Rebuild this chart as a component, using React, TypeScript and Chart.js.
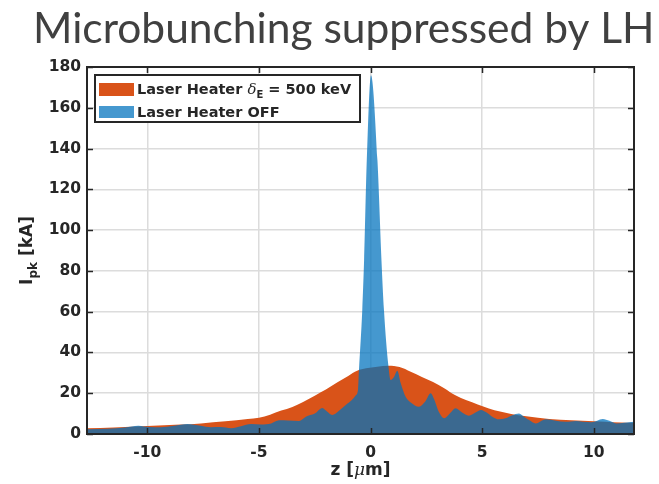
import React, { useEffect, useRef } from 'react';
import { Chart, registerables } from 'chart.js';
Chart.register(...registerables);

// ---- data (z in µm, I_pk in kA) ----
const zHeater = [-12.7, -11.5, -10, -8.5, -7.6, -6.5, -5.5, -5.0, -4.5, -4.0, -3.5, -3.0, -2.5, -2.0, -1.5, -1.0, -0.6, -0.2, 0.3, 0.8, 1.3, 1.8, 2.3, 2.8, 3.3, 3.8, 4.3, 4.8, 5.3, 5.8, 6.3, 6.8, 7.5, 8.5, 9.5, 10.5, 11.2, 11.8];
const iHeater = [2.8, 3.2, 3.9, 4.6, 5.2, 6.2, 7.3, 8.0, 9.5, 11.5, 13.3, 15.8, 18.8, 21.8, 25.2, 28.5, 31, 32.2, 33, 33.5, 32.8, 30.5, 28, 25.5, 22.5, 19, 16.5, 14.5, 12.5, 11, 9.8, 9, 8, 7, 6.5, 6, 5.6, 5.5];

const zOff = [-12.7, -11.8, -11.0, -10.4, -9.9, -9.4, -8.8, -8.2, -7.6, -7.15, -6.7, -6.25, -5.8, -5.35, -4.9, -4.45, -4.1, -3.7, -3.2, -2.9, -2.5, -2.16, -1.95, -1.72, -1.4, -1.11, -0.85, -0.66, -0.56, -0.52, -0.37, -0.29, -0.17, 0.02, 0.31, 0.49, 0.6, 0.8, 0.9, 1.05, 1.2, 1.35, 1.57, 1.8, 2.17, 2.45, 2.69, 2.85, 3.05, 3.3, 3.55, 3.81, 4.1, 4.4, 4.7, 4.95, 5.2, 5.45, 5.75, 6.05, 6.35, 6.65, 6.9, 7.1, 7.4, 7.85, 8.3, 8.75, 9.2, 9.5, 9.9, 10.4, 10.7, 11.0, 11.35, 11.8];
const iOff = [2.3, 2.6, 3.2, 4.1, 3.4, 3.3, 4.0, 4.9, 4.0, 3.3, 3.4, 2.8, 3.8, 4.9, 4.7, 5.2, 6.7, 6.6, 6.4, 8.5, 10, 12.8, 11, 9.3, 11.5, 14.2, 16.5, 19, 22, 31, 61, 85, 134, 176, 134, 85, 61, 33.5, 26.5, 28, 31, 25, 18.3, 15.5, 13.4, 16, 20, 17, 11, 7.7, 10, 12.6, 10.5, 9, 10.5, 11.8, 10.5, 8.5, 7.2, 7.7, 9.2, 10.1, 8.2, 6.9, 5.2, 7.2, 6.5, 6.0, 6.4, 6.0, 5.8, 7.4, 6.5, 5.2, 5.5, 6.0];

const xTicks = [-10, -5, 0, 5, 10];
const yTicks = [0, 20, 40, 60, 80, 100, 120, 140, 160, 180];
const xRange = [-12.7, 11.8];
const yRange = [0, 180];

const titleText = 'Microbunching suppressed by LH';
const legendHeaterParts = ['Laser Heater ', 'δ', 'E', ' = 500 keV'];
const legendOffText = 'Laser Heater OFF';
const xLabelParts = ['z [', 'μ', 'm]'];
const yLabelParts = ['I', 'pk', ' [kA]'];

const ORANGE = '#D95319';
const BLUE = 'rgba(0,114,189,0.73)';
const INK = '#262626';

type Run = { t: string; font: string; dy?: number };

function drawRuns(ctx: CanvasRenderingContext2D, runs: Run[], x: number, y: number, align: 'left' | 'center') {
  let total = 0;
  for (const r of runs) { ctx.font = r.font; total += ctx.measureText(r.t).width; }
  let cx = align === 'center' ? x - total / 2 : x;
  for (const r of runs) {
    ctx.font = r.font;
    ctx.fillText(r.t, cx, y + (r.dy || 0));
    cx += ctx.measureText(r.t).width;
  }
}

const overlayPlugin = {
  id: 'overlay',
  afterDraw(chart: any) {
    const { ctx, chartArea: a, scales } = chart;
    const xs = scales.x, ys = scales.y;
    ctx.save();
    // inward ticks
    ctx.strokeStyle = INK;
    ctx.lineWidth = 1.5;
    const tl = 6;
    ctx.beginPath();
    for (const v of yTicks) {
      const py = Math.round(ys.getPixelForValue(v)) + 0.5;
      ctx.moveTo(a.left, py); ctx.lineTo(a.left + tl, py);
      ctx.moveTo(a.right, py); ctx.lineTo(a.right - tl, py);
    }
    for (const v of xTicks) {
      const px = Math.round(xs.getPixelForValue(v)) + 0.5;
      ctx.moveTo(px, a.bottom); ctx.lineTo(px, a.bottom - tl);
      ctx.moveTo(px, a.top); ctx.lineTo(px, a.top + tl);
    }
    ctx.stroke();
    // box
    ctx.lineWidth = 2;
    ctx.strokeRect(a.left, a.top, a.right - a.left, a.bottom - a.top);

    // title
    ctx.fillStyle = '#404040';
    ctx.textAlign = 'left';
    ctx.textBaseline = 'alphabetic';
    ctx.font = '42.5px Lato';
    ctx.fillText(titleText, 33, 43);

    // axis labels
    ctx.fillStyle = INK;
    const lf = 'bold 17px "DejaVu Sans"';
    drawRuns(ctx, [
      { t: xLabelParts[0], font: lf },
      { t: xLabelParts[1], font: 'italic 17px "DejaVu Serif"' },
      { t: xLabelParts[2], font: lf },
    ], (a.left + a.right) / 2, 475, 'center');

    ctx.save();
    ctx.translate(32, (a.top + a.bottom) / 2);
    ctx.rotate(-Math.PI / 2);
    drawRuns(ctx, [
      { t: yLabelParts[0], font: lf },
      { t: yLabelParts[1], font: 'bold 12px "DejaVu Sans"', dy: 5 },
      { t: yLabelParts[2], font: lf },
    ], 0, 0, 'center');
    ctx.restore();

    // legend
    const lx = 95, ly = 75, lw = 265, lh = 47;
    ctx.fillStyle = '#ffffff';
    ctx.fillRect(lx, ly, lw, lh);
    ctx.strokeStyle = INK;
    ctx.lineWidth = 2;
    ctx.strokeRect(lx, ly, lw, lh);
    ctx.fillStyle = ORANGE;
    ctx.fillRect(99, 83, 35, 13);
    ctx.fillStyle = BLUE;
    ctx.fillRect(99, 106, 35, 12);
    ctx.fillStyle = INK;
    const gf = 'bold 14.5px "DejaVu Sans"';
    drawRuns(ctx, [
      { t: legendHeaterParts[0], font: gf },
      { t: legendHeaterParts[1], font: 'italic 15px "DejaVu Serif"' },
      { t: legendHeaterParts[2], font: 'bold 10px "DejaVu Sans"', dy: 4 },
      { t: legendHeaterParts[3], font: gf },
    ], 137, 94, 'left');
    drawRuns(ctx, [{ t: legendOffText, font: gf }], 137, 117, 'left');
    ctx.restore();
  },
};

export default function App() {
  const ref = useRef<HTMLCanvasElement | null>(null);
  useEffect(() => {
    document.body.style.margin = '0';
    const canvas = ref.current;
    if (!canvas) return;
    const tickFont = { family: 'DejaVu Sans', size: 15.5, weight: 'bold' as const };
    const chart = new Chart(canvas, {
      type: 'line',
      data: {
        datasets: [
          {
            label: 'Laser Heater δE = 500 keV',
            data: zHeater.map((z, i) => ({ x: z, y: iHeater[i] })),
            backgroundColor: ORANGE,
            borderWidth: 0,
            pointRadius: 0,
            fill: 'origin',
            cubicInterpolationMode: 'monotone',
            order: 2,
          },
          {
            label: 'Laser Heater OFF',
            data: zOff.map((z, i) => ({ x: z, y: iOff[i] })),
            backgroundColor: BLUE,
            borderWidth: 0,
            pointRadius: 0,
            fill: 'origin',
            cubicInterpolationMode: 'monotone',
            order: 1,
          },
        ],
      },
      options: {
        responsive: false,
        animation: false,
        devicePixelRatio: 1,
        layout: { padding: { left: 0, top: 67, right: 25, bottom: 0 } },
        plugins: { legend: { display: false }, tooltip: { enabled: false }, title: { display: false } },
        scales: {
          x: {
            type: 'linear',
            min: xRange[0],
            max: xRange[1],
            afterBuildTicks: (s: any) => { s.ticks = xTicks.map((v) => ({ value: v })); },
            afterFit: (s: any) => { s.height = 50; },
            grid: { color: '#dcdcdc', lineWidth: 1.5, drawTicks: false },
            border: { display: false },
            ticks: { font: tickFont, color: INK, padding: 10, maxRotation: 0 },
          },
          y: {
            type: 'linear',
            min: yRange[0],
            max: yRange[1],
            afterBuildTicks: (s: any) => { s.ticks = yTicks.map((v) => ({ value: v })); },
            afterFit: (s: any) => { s.width = 87; },
            grid: { color: '#dcdcdc', lineWidth: 1.5, drawTicks: false },
            border: { display: false },
            ticks: { font: tickFont, color: INK, padding: 6 },
          },
        },
      },
      plugins: [overlayPlugin],
    } as any);
    return () => chart.destroy();
  }, []);
  return (
    <div style={{ width: 659, height: 484, position: 'relative', background: '#fff' }}>
      <canvas ref={ref} width={659} height={484} />
    </div>
  );
}
